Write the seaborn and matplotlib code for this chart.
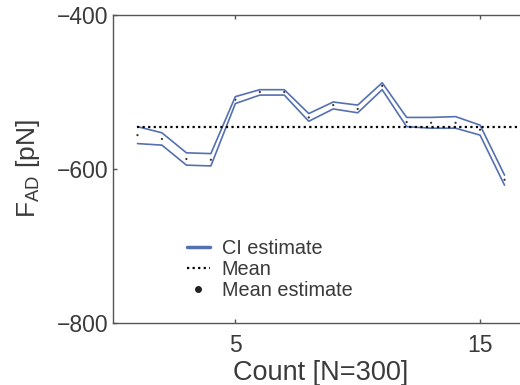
import numpy as np
import pandas as pd
import matplotlib
matplotlib.use("Agg")
import matplotlib.pyplot as plt
import seaborn as sns
from matplotlib.lines import Line2D

# Count index and confidence-interval bounds of the adhesion force
counts = [1, 2, 3, 4, 5, 6, 7, 8, 9, 10, 11, 12, 13, 14, 15, 16]
ci_upper = [-545, -553, -579, -580, -506, -497, -497, -528, -513, -517, -488, -533, -533, -532, -543, -608]
ci_lower = [-567, -569, -595, -596, -515, -504, -504, -538, -522, -527, -497, -545, -547, -547, -556, -621]
mean_estimate = [-556, -561, -587, -588, -510, -500, -500, -533, -517, -522, -492, -539, -540, -540, -549, -614]
overall_mean = -545

xticks = [5, 15]
yticks = [-800, -600, -400]

df = pd.DataFrame({"count": counts, "upper": ci_upper, "lower": ci_lower, "mean": mean_estimate})

sns.set_theme(style="white")
plt.rcParams["font.family"] = ["Liberation Sans", "DejaVu Sans"]
plt.rcParams["mathtext.default"] = "regular"
plt.rcParams["axes.unicode_minus"] = True

TEXT = "#3a3a3a"
BLUE = "#5570b0"

fig = plt.figure(figsize=(5.2, 3.85), dpi=100)
ax = fig.add_axes([113 / 520, 62 / 385, 416 / 520, 308 / 385])

sns.lineplot(data=df, x="count", y="upper", ax=ax, color=BLUE, lw=1.2)
sns.lineplot(data=df, x="count", y="lower", ax=ax, color=BLUE, lw=1.2)
ax.hlines(overall_mean, counts[0], 17.5, colors="black", linestyles=(0, (1, 1.5)), lw=1.6)
sns.scatterplot(data=df, x="count", y="mean", ax=ax, color="#333333", s=2.5, edgecolor="none")

ax.set_xlim(0, 17)
ax.set_ylim(-800, -400)
ax.set_xticks(xticks)
ax.set_yticks(yticks)
ax.set_xlabel("Count [N=300]", fontsize=19.5, color=TEXT, labelpad=2)
ax.set_ylabel("F$_{AD}$ [pN]", fontsize=19, color=TEXT, labelpad=11)
ax.tick_params(axis="both", direction="in", length=3, width=1, colors="#555555",
               labelcolor=TEXT, labelsize=16.5, top=True, right=True, bottom=True, left=True)
ax.tick_params(axis="x", pad=8)
ax.tick_params(axis="y", pad=3)
for sp in ax.spines.values():
    sp.set_color("#555555")
    sp.set_linewidth(1.0)

handles = [
    Line2D([], [], color=BLUE, lw=2.5),
    Line2D([], [], color="black", lw=1.6, linestyle=(0, (1, 1.5))),
    Line2D([], [], color="#222222", marker="o", markersize=4, lw=0),
]
labels = ["CI estimate", "Mean", "Mean estimate"]
leg = ax.legend(handles, labels, loc="upper left", bbox_to_anchor=((187 - 113) / 416, (323 - 239) / 308),
                frameon=False, fontsize=14.3, handlelength=1.15, handletextpad=0.6,
                labelspacing=0.1, borderpad=0, borderaxespad=0)
for t in leg.get_texts():
    t.set_color(TEXT)

fig.savefig("out.png", dpi=100)
